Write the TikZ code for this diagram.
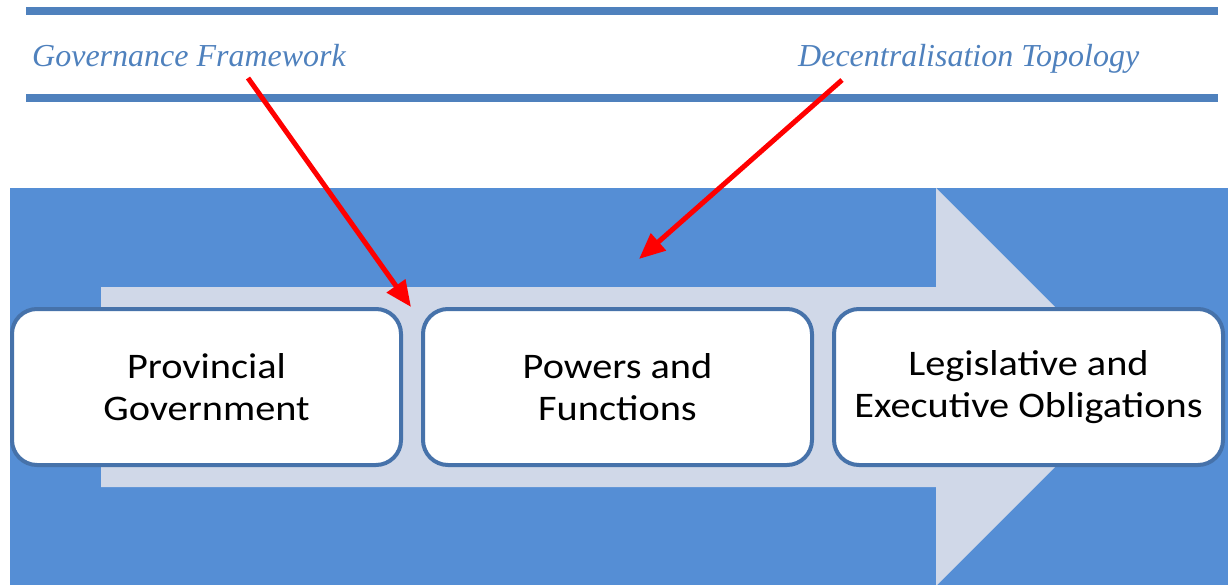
\documentclass[tikz,border=0pt]{standalone}
\usepackage{fontspec}
\setmainfont{Liberation Serif}
\setsansfont{Carlito}[FakeStretch=1.12]
\usepackage{xcolor}
\usetikzlibrary{arrows.meta,positioning,calc}

\definecolor{rulecol}{RGB}{79,129,189}
\definecolor{bgblue}{RGB}{85,142,213}
\definecolor{pale}{RGB}{208,216,232}
\definecolor{edgeblue}{RGB}{70,114,170}

\begin{document}
\begin{tikzpicture}[
  x=1pt, y=-1pt,
  rulebar/.style={line width=8pt, rulecol},
  heading/.style={anchor=base west, inner sep=0pt, text=rulecol,
    font=\fontsize{32}{36}\selectfont\itshape},
  stage/.style={rectangle, draw=edgeblue, fill=white, line width=4pt,
    rounded corners=25pt, minimum width=389pt, minimum height=156pt,
    align=center, font=\sffamily\fontsize{36}{42}\selectfont},
  pointer/.style={-{Triangle[length=26pt,width=22pt]}, line width=5pt, red}
]
\useasboundingbox (0,0) rectangle (1228,585);
\clip (0,0) rectangle (1228,585);

% header rules and titles
\draw[rulebar] (26,11) -- (1218,11);
\draw[rulebar] (26,98) -- (1218,98);
\node[heading] (gov) at (32,67) {Governance Framework};
\node[heading] (topo) at (798,67) {Decentralisation Topology};

% background and flow arrow
\fill[bgblue] (10,188) rectangle (1228,585);
\fill[pale] (101,287) -- (936,287) -- (936,188) -- (1135,387)
  -- (936,586) -- (936,487) -- (101,487) -- cycle;

% stages
\node[stage] (prov) at (206.5,387) {Provincial\\Government};
\node[stage, right=18pt of prov] (powers) {Powers and\\Functions};
\node[stage, right=18pt of powers] (oblig) {Legislative and\\Executive Obligations};

% pointers
\coordinate (govstart) at (248,78);
\coordinate (govend) at (411,307);
\coordinate (topostart) at (842,80);
\coordinate (topoend) at (639,259);
\draw[pointer] (govstart) -- (govend);
\draw[pointer] (topostart) -- (topoend);
\end{tikzpicture}
\end{document}
